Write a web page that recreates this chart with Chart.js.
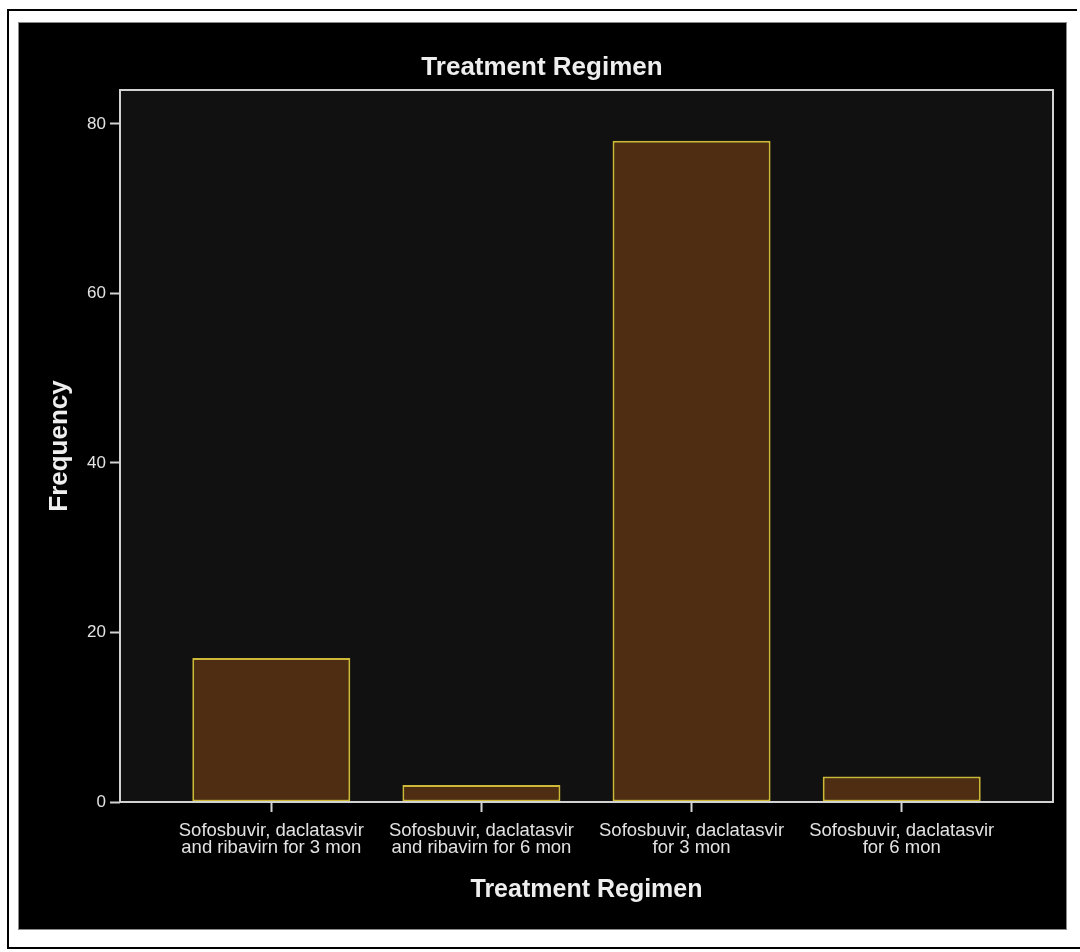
<!DOCTYPE html>
<html>
<head>
<meta charset="utf-8">
<title>Treatment Regimen</title>
<script src="https://cdn.jsdelivr.net/npm/chart.js@4/dist/chart.umd.min.js"></script>
<style>
  html, body { margin: 0; padding: 0; background: #ffffff; }
  canvas { display: block; }
</style>
</head>
<body>
<canvas id="regimenChart" width="1080" height="952"></canvas>
<script>
// Kategorie (etykiety osi X, dwie linie każda)
const categories = [
    ['Sofosbuvir, daclatasvir', 'and ribavirn for 3 mon'],
    ['Sofosbuvir, daclatasvir', 'and ribavirn for 6 mon'],
    ['Sofosbuvir, daclatasvir', 'for 3 mon'],
    ['Sofosbuvir, daclatasvir', 'for 6 mon']
];
// Liczebności
const frequencies = [17, 2, 78, 3];
// Podziałka osi Y
const yTicks = [0, 20, 40, 60, 80];

const FONT = "'Liberation Sans', Arial, sans-serif";

// Tło: biała kartka z ramką, czarny panel i ciemny obszar wykresu z obramowaniem
const spssFrame = {
    id: 'spssFrame',
    beforeDraw(chart) {
        const ctx = chart.ctx;
        const a = chart.chartArea;
        ctx.save();
        ctx.fillStyle = '#ffffff';
        ctx.fillRect(0, 0, chart.width, chart.height);
        // cienka czarna ramka kartki
        ctx.strokeStyle = '#000000';
        ctx.lineWidth = 2;
        ctx.beginPath();
        ctx.moveTo(1077, 10);
        ctx.lineTo(8, 10);
        ctx.lineTo(8, 948);
        ctx.lineTo(1080, 948);
        ctx.stroke();
        // czarny panel
        ctx.fillStyle = '#000000';
        ctx.fillRect(18, 22, 1049, 908);
        ctx.strokeStyle = '#8a8a8a';
        ctx.lineWidth = 1;
        ctx.strokeRect(18.5, 22.5, 1048, 907);
        // obszar wykresu
        ctx.fillStyle = '#111111';
        ctx.fillRect(a.left, a.top, a.right - a.left, a.bottom - a.top);
        ctx.restore();
    },
    afterDatasetsDraw(chart) {
        const ctx = chart.ctx;
        const a = chart.chartArea;
        ctx.save();
        ctx.strokeStyle = '#d2d2d2';
        ctx.lineWidth = 2;
        ctx.strokeRect(a.left, a.top, a.right - a.left, a.bottom - a.top);
        ctx.restore();
    }
};

const ctxRegimen = document.getElementById('regimenChart').getContext('2d');

const regimenChart = new Chart(ctxRegimen, {
    type: 'bar',
    data: {
        datasets: [{
            label: 'Frequency',
            data: frequencies.map((v, i) => ({ x: i, y: v })),
            backgroundColor: '#4e2d12',
            borderColor: '#cdb838',
            borderWidth: 2,
            borderSkipped: false,
            categoryPercentage: 1,
            barPercentage: 0.752
        }]
    },
    options: {
        responsive: false,
        animation: false,
        layout: { padding: { top: 42, left: 31, right: 27, bottom: 30 } },
        plugins: {
            legend: { display: false },
            tooltip: { enabled: false },
            title: {
                display: true,
                text: 'Treatment Regimen',
                color: '#eeeeee',
                font: { family: FONT, size: 26, weight: 'bold', lineHeight: 1.2 },
                padding: { top: 10.4, bottom: 6.4 }
            }
        },
        scales: {
            x: {
                type: 'linear',
                offset: false,
                min: -0.72,
                max: 3.72,
                afterBuildTicks: (scale) => { scale.ticks = categories.map((c, i) => ({ value: i })); },
                afterFit: (scale) => { scale.height = 120; },
                ticks: {
                    color: '#e2e2e2',
                    font: { family: FONT, size: 18.5, lineHeight: 0.95 },
                    padding: 10,
                    maxRotation: 0,
                    autoSkip: false,
                    callback: (value) => categories[value]
                },
                grid: { offset: false, drawOnChartArea: false, drawTicks: true, tickLength: 10, tickColor: '#d2d2d2', tickWidth: 2 },
                border: { display: false },
                title: {
                    display: true,
                    text: 'Treatment Regimen',
                    color: '#eeeeee',
                    font: { family: FONT, size: 25, weight: 'bold', lineHeight: 1.2 },
                    padding: { top: 0, bottom: 17 }
                }
            },
            y: {
                min: 0,
                max: 84,
                afterBuildTicks: (scale) => { scale.ticks = yTicks.map(v => ({ value: v })); },
                afterFit: (scale) => { scale.width = 89; },
                ticks: {
                    color: '#e2e2e2',
                    font: { family: FONT, size: 17 },
                    padding: 4
                },
                grid: { drawOnChartArea: false, drawTicks: true, tickLength: 10, tickColor: '#d2d2d2', tickWidth: 2 },
                border: { display: false },
                title: {
                    display: true,
                    text: 'Frequency',
                    color: '#eeeeee',
                    font: { family: FONT, size: 26, weight: 'bold', lineHeight: 1.2 },
                    padding: { top: 13, bottom: 0 }
                }
            }
        }
    },
    plugins: [spssFrame]
});
</script>
</body>
</html>
